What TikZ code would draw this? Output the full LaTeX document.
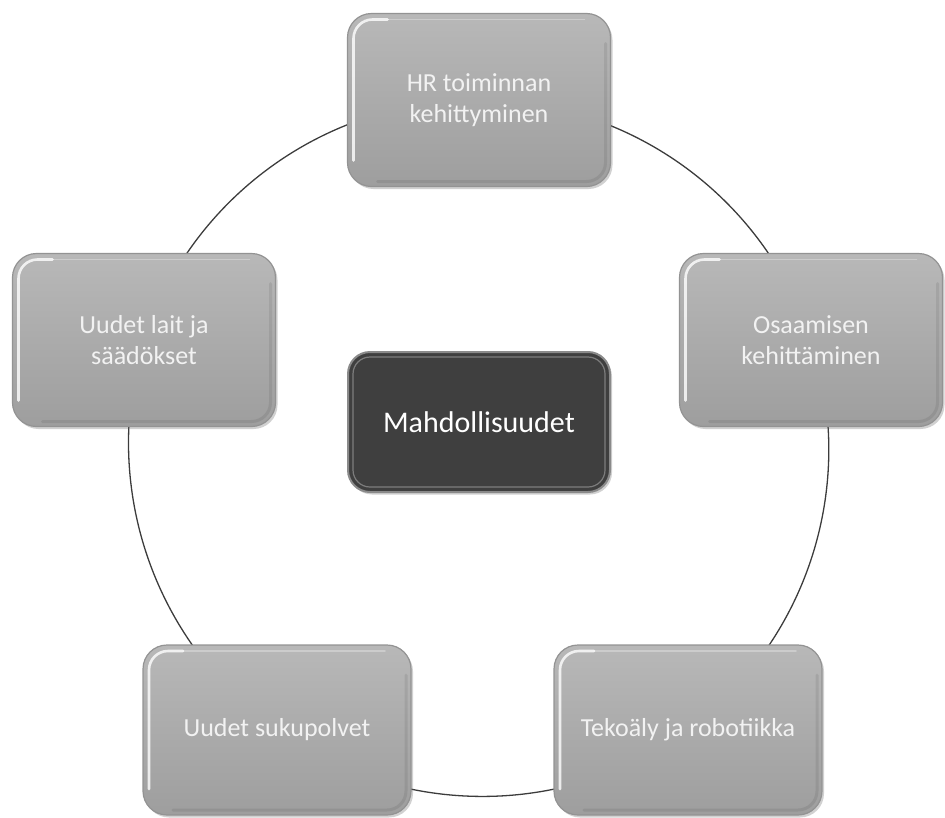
\documentclass[tikz,border=0pt]{standalone}
\usepackage{fontspec}
\setmainfont{Carlito}
\usetikzlibrary{shadows,backgrounds}
\definecolor{boxtop}{HTML}{B8B8B8}
\definecolor{boxbot}{HTML}{9E9E9E}
\definecolor{boxedge}{HTML}{939393}
\definecolor{ringcol}{HTML}{3C3C3C}
\definecolor{hubfill}{HTML}{3F3F3F}
\definecolor{hubedge}{HTML}{8A8A8A}
\definecolor{labelcol}{HTML}{F2F2F2}
\begin{document}
\begin{tikzpicture}[x=1pt,y=-1pt,
  petal/.style={rectangle, rounded corners=24pt, minimum width=263pt, minimum height=173pt,
    top color=boxtop, bottom color=boxbot, draw=boxedge, line width=1.2pt,
    text=labelcol, align=center, font=\fontsize{26}{31}\selectfont,
    drop shadow={shadow xshift=2pt, shadow yshift=-2.5pt, opacity=0.3, fill=black!60},
    path picture={
      \draw[white, opacity=0.8, line width=2.6pt, rounded corners=19pt, line cap=round]
        ([shift={(6pt,26pt)}]path picture bounding box.south west) --
        ([shift={(6pt,-6pt)}]path picture bounding box.north west) --
        ([shift={(40pt,-6pt)}]path picture bounding box.north west);
      \draw[white, opacity=0.3, line width=1.5pt, line cap=round]
        ([shift={(40pt,-6pt)}]path picture bounding box.north west) --
        ([shift={(-26pt,-6pt)}]path picture bounding box.north east);
      \draw[black, opacity=0.08, line width=3pt, rounded corners=19pt, line cap=round]
        ([shift={(-5pt,-30pt)}]path picture bounding box.north east) --
        ([shift={(-5pt,5pt)}]path picture bounding box.south east) --
        ([shift={(30pt,5pt)}]path picture bounding box.south west);
    }},
  hubbox/.style={rectangle, rounded corners=22pt, minimum width=262pt, minimum height=140pt,
    fill=hubfill, draw=hubedge, line width=2pt,
    text=white, align=center, font=\fontsize{30}{36}\selectfont,
    drop shadow={shadow xshift=2pt, shadow yshift=-2.5pt, opacity=0.3, fill=black!60},
    path picture={\draw[gray!70, opacity=0.6, line width=1.2pt, rounded corners=17pt]
      ([shift={(5pt,-5pt)}]path picture bounding box.north west) rectangle
      ([shift={(-5pt,5pt)}]path picture bounding box.south east);}},
  ring/.style={draw=ringcol, line width=1.3pt}
]
\useasboundingbox (0,0) rectangle (945,817);

\node[petal] (hr) at (479,100) {HR toiminnan\\kehittyminen};
\node[petal] (osaaminen) at (811,340) {Osaamisen\\kehittäminen};
\node[petal, minimum width=268pt, minimum height=170pt] (tekoaly) at (688,730) {Tekoäly ja robotiikka};
\node[petal, minimum width=268pt, minimum height=170pt] (sukupolvet) at (277,730) {Uudet sukupolvet};
\node[petal] (lait) at (144,340) {Uudet lait ja\\säädökset};
\node[hubbox] (hub) at (479,422) {Mahdollisuudet};

\begin{scope}[on background layer]
  \draw[ring] (hr.center) to[bend left=36, looseness=0.94] (osaaminen.center);
  \draw[ring] (osaaminen.center) to[bend left=36, looseness=0.94] (tekoaly.center);
  \draw[ring] (tekoaly.center) to[bend left=36, looseness=0.94] (sukupolvet.center);
  \draw[ring] (sukupolvet.center) to[bend left=36, looseness=0.94] (lait.center);
  \draw[ring] (lait.center) to[bend left=36, looseness=0.94] (hr.center);
\end{scope}
\end{tikzpicture}
\end{document}
